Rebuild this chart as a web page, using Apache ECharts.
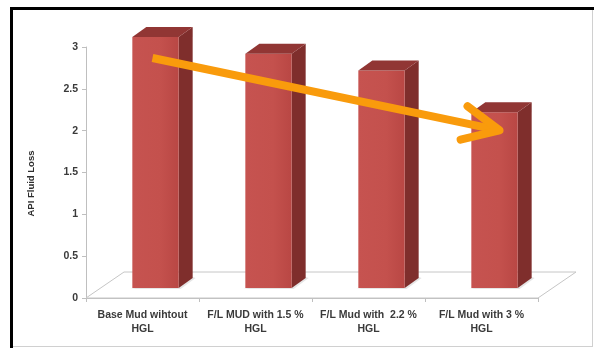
<!DOCTYPE html>
<html>
<head>
<meta charset="utf-8">
<script src="https://cdn.jsdelivr.net/npm/echarts@6/dist/echarts.min.js"></script>
<style>
  html, body { margin: 0; padding: 0; background: #ffffff; }
  #chart { width: 594px; height: 348px; }
</style>
</head>
<body>
<div id="chart"></div>
<script>
// Mud formulations and their measured API fluid loss
const categories = [
  'Base Mud wihtout\nHGL',
  'F/L MUD with 1.5 %\nHGL',
  'F/L Mud with  2.2 %\nHGL',
  'F/L Mud with 3 %\nHGL'
];
const fluidLoss = [3.0, 2.8, 2.6, 2.1];
const axisName = 'API Fluid Loss';

// Oblique projection used to fake the 3D look
const BAR_SHIFT = [13, -10];   // front face of the column sits this far behind the floor edge
const BAR_DEPTH = [14, -10];   // column thickness
const FLOOR_DEPTH = [38, -26]; // floor depth

const FONT = '"Liberation Sans", Arial, sans-serif';

const chart = echarts.init(document.getElementById('chart'));

function renderFloor(params, api) {
  const cs = params.coordSys;
  const x0 = cs.x, x1 = cs.x + cs.width, y0 = cs.y + cs.height;
  const [dx, dy] = FLOOR_DEPTH;
  return {
    type: 'polygon',
    shape: { points: [[x0, y0], [x1, y0], [x1 + dx, y0 + dy], [x0 + dx, y0 + dy]] },
    style: { fill: '#ffffff', stroke: '#c6c6c6', lineWidth: 1 }
  };
}

function renderColumn(params, api) {
  const idx = api.value(0);
  const v = api.value(1);
  const base = api.coord([idx, 0]);
  const top = api.coord([idx, v]);
  const band = api.size([1, 0])[0];
  const hw = band * 0.205;
  const x0 = base[0] - hw + BAR_SHIFT[0];
  const x1 = base[0] + hw + BAR_SHIFT[0];
  const yb = base[1] + BAR_SHIFT[1];
  const yt = top[1] + BAR_SHIFT[1];
  const [dx, dy] = BAR_DEPTH;
  const frontFill = new echarts.graphic.LinearGradient(0, 0, 1, 0, [
    { offset: 0, color: '#c65350' },
    { offset: 0.6, color: '#c4514d' },
    { offset: 1, color: '#b94744' }
  ]);
  return {
    type: 'group',
    children: [
      { // faint shadow on the floor
        type: 'polygon',
        shape: { points: [[x0 - 2, yb + 1], [x1 + 2, yb + 1], [x1 + dx + 3, yb + dy], [x1 + dx, yb + dy - 1]] },
        style: { fill: 'rgba(0,0,0,0.10)' }
      },
      {
        type: 'polygon',
        shape: { points: [[x1, yb], [x1 + dx, yb + dy], [x1 + dx, yt + dy], [x1, yt]] },
        style: { fill: '#7f2e2c' }
      },
      {
        type: 'rect',
        shape: { x: x0, y: yt, width: x1 - x0, height: yb - yt },
        style: { fill: frontFill }
      },
      {
        type: 'polygon',
        shape: { points: [[x0, yt], [x0 + dx, yt + dy], [x1 + dx, yt + dy], [x1, yt]] },
        style: { fill: '#913634' }
      }
    ]
  };
}

const option = {
  animation: false,
  backgroundColor: '#ffffff',
  grid: { left: 86, right: 56, top: 47, bottom: 50, containLabel: false },
  xAxis: {
    type: 'category',
    data: categories,
    boundaryGap: true,
    axisLine: { show: true, lineStyle: { color: '#bfbfbf', width: 1 } },
    axisTick: { show: true, length: 4, lineStyle: { color: '#bfbfbf' } },
    axisLabel: {
      interval: 0,
      margin: 10,
      color: '#3a3a3a',
      fontFamily: FONT,
      fontWeight: 'bold',
      fontSize: 10.5,
      lineHeight: 14
    },
    splitLine: { show: false }
  },
  yAxis: {
    type: 'value',
    min: 0,
    max: 3,
    interval: 0.5,
    name: axisName,
    nameLocation: 'middle',
    nameGap: 50,
    nameRotate: 90,
    nameTextStyle: {
      color: '#2e2e2e',
      fontFamily: FONT,
      fontWeight: 'bold',
      fontSize: 9.5,
      padding: [0, 22, 0, 0]
    },
    axisLine: { show: true, lineStyle: { color: '#bfbfbf', width: 1 } },
    axisTick: { show: true, length: 4, lineStyle: { color: '#bfbfbf' } },
    axisLabel: {
      margin: 8,
      color: '#3a3a3a',
      fontFamily: FONT,
      fontWeight: 'bold',
      fontSize: 10.5
    },
    splitLine: { show: false }
  },
  series: [
    {
      type: 'custom',
      name: 'floor',
      renderItem: renderFloor,
      data: [[0, 0]],
      encode: { x: 0, y: 1 },
      clip: false,
      silent: true,
      z: 1
    },
    {
      type: 'custom',
      name: axisName,
      renderItem: renderColumn,
      data: fluidLoss.map((v, i) => [i, v]),
      encode: { x: 0, y: 1 },
      clip: false,
      z: 3
    }
  ]
};

chart.setOption(option);

// Trend arrow running from the first column to the last one
const first = chart.convertToPixel({ seriesIndex: 1 }, [0, fluidLoss[0]]);
const last = chart.convertToPixel({ seriesIndex: 1 }, [fluidLoss.length - 1, fluidLoss[fluidLoss.length - 1]]);
const start = [first[0] + 10, first[1] + 11];
const tip = [last[0] + 18, last[1] + 8];
const ang = Math.atan2(tip[1] - start[1], tip[0] - start[0]);
const armLen = 40, spread = 0.44;
const arm1 = [tip[0] - armLen * Math.cos(ang - spread), tip[1] - armLen * Math.sin(ang - spread)];
const arm2 = [tip[0] - armLen * Math.cos(ang + spread), tip[1] - armLen * Math.sin(ang + spread)];
const ORANGE = '#f99b0c';

chart.setOption({
  graphic: [
    { type: 'line', shape: { x1: 10, y1: 8.5, x2: 594, y2: 8.5 }, style: { stroke: '#000000', lineWidth: 3 }, z: 10 },
    { type: 'line', shape: { x1: 11.5, y1: 7, x2: 11.5, y2: 348 }, style: { stroke: '#000000', lineWidth: 3 }, z: 10 },
    { type: 'line', shape: { x1: 592.5, y1: 10, x2: 592.5, y2: 346 }, style: { stroke: '#d0d0d0', lineWidth: 1 }, z: 10 },
    { type: 'line', shape: { x1: 13, y1: 346.5, x2: 593, y2: 346.5 }, style: { stroke: '#d0d0d0', lineWidth: 1 }, z: 10 },
    {
      type: 'polyline',
      shape: { points: [start, tip] },
      style: { stroke: ORANGE, lineWidth: 8, lineCap: 'butt', fill: null },
      z: 20
    },
    {
      type: 'polyline',
      shape: { points: [arm1, tip, arm2] },
      style: { stroke: ORANGE, lineWidth: 8, lineCap: 'round', lineJoin: 'round', fill: null },
      z: 20
    }
  ]
});
</script>
</body>
</html>
